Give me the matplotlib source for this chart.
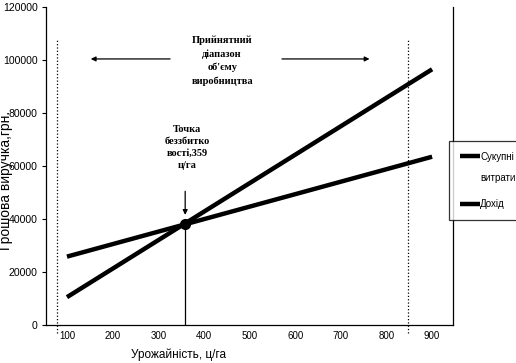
import matplotlib.pyplot as plt

# дані графіка
urozhai = [100, 900]
sukupni_vytraty = [25800, 63500]
dokhid = [10500, 96500]
tochka_x = 359
tochka_y = 38300
diapazon = [78, 848]

x_ticks = [100, 200, 300, 400, 500, 600, 700, 800, 900]
y_ticks = [0, 20000, 40000, 60000, 80000, 100000, 120000]

fig = plt.figure(figsize=(5.16, 3.63), dpi=100)
ax = fig.add_axes([0.0891, 0.1047, 0.789, 0.876])

ax.plot(urozhai, sukupni_vytraty, color='black', linewidth=3.2, label="Сукупні\nвитрати",
        solid_capstyle='butt')
ax.plot(urozhai, dokhid, color='black', linewidth=3.2, label="Дохід", solid_capstyle='butt')
ax.plot([tochka_x], [tochka_y], 'o', color='black', markersize=7, zorder=5)
ax.plot([tochka_x, tochka_x], [0, tochka_y], color='black', linewidth=0.9)

for d in diapazon:
    ax.plot([d, d], [-3000, 107500], color='black', linestyle=':', linewidth=0.9, clip_on=False)

ax.set_xlim(54, 946)
ax.set_ylim(0, 120000)
ax.set_xticks(x_ticks)
ax.set_xticklabels([str(v) for v in x_ticks])
ax.set_yticks(y_ticks)
ax.set_yticklabels([str(v) for v in y_ticks])
ax.tick_params(axis='x', length=0, pad=4, labelsize=7)
ax.tick_params(axis='y', length=3, width=0.8, direction='out', labelsize=7.6, pad=3)
for lab in ax.get_xticklabels() + ax.get_yticklabels():
    lab.set_family('Liberation Sans')

ax.spines['top'].set_visible(False)
for s in ['left', 'bottom', 'right']:
    ax.spines[s].set_linewidth(0.9)

ax.set_xlabel("Урожайність, ц/га", fontsize=8.5, family='Liberation Sans')
ax.xaxis.set_label_coords(0.325, -0.075)
ax.set_ylabel("Грошова виручка,грн.", fontsize=10, family='Liberation Sans')
ax.yaxis.set_label_coords(-0.082, 0.456)

# стрілки діапазону
ax.annotate("", xy=(146, 100400), xytext=(332, 100400),
            arrowprops=dict(arrowstyle='-|>', color='black', lw=0.9, mutation_scale=7))
ax.annotate("", xy=(769, 100400), xytext=(565, 100400),
            arrowprops=dict(arrowstyle='-|>', color='black', lw=0.9, mutation_scale=7))
ax.text(440, 99800, "Прийнятний\nдіапазон\nоб'єму\nвиробництва", ha='center', va='center',
        fontsize=7.5, fontweight='bold', family='Liberation Serif', linespacing=1.55)

# точка беззбитковості
ax.text(363, 67000, "Точка\nбеззбитко\nвості,359\nц/га", ha='center', va='center',
        fontsize=7.5, fontweight='bold', family='Liberation Serif', linespacing=1.45)
ax.annotate("", xy=(tochka_x, 40500), xytext=(tochka_x, 51500),
            arrowprops=dict(arrowstyle='-|>', color='black', lw=0.9, mutation_scale=7))

leg = ax.legend(loc='upper left', bbox_to_anchor=(449 / 516, 1 - 141 / 363),
                bbox_transform=fig.transFigure, frameon=True, fancybox=False,
                edgecolor='black', handlelength=2.0, handletextpad=0.05,
                borderaxespad=0, labelspacing=1.7, borderpad=1.15, handleheight=0.7,
                prop={'family': 'Liberation Sans', 'size': 7})
leg.get_frame().set_linewidth(0.9)
leg.get_texts()[0].set_linespacing(2.3)
# лінію першого запису підняти до першого рядка підпису
h0 = leg.legend_handles[0]
h0.set_ydata([y + 8.5 for y in h0.get_ydata()])

fig.savefig("out.png", dpi=100)
